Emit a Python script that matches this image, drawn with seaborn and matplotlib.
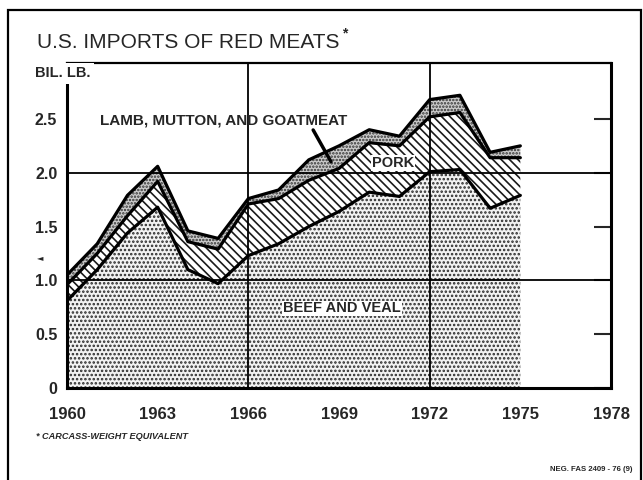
import matplotlib
matplotlib.use("Agg")
import matplotlib.pyplot as plt
import matplotlib.patches as patches
from matplotlib.ticker import MultipleLocator
import pandas as pd
import seaborn as sns

# Datos (miles de millones de libras)
years = list(range(1960, 1976))
beef = [0.81, 1.10, 1.44, 1.68, 1.10, 0.97, 1.23, 1.34, 1.50, 1.64, 1.82, 1.78, 2.01, 2.03, 1.67, 1.79]
pork = [0.15, 0.15, 0.16, 0.24, 0.26, 0.32, 0.48, 0.42, 0.43, 0.40, 0.46, 0.47, 0.51, 0.53, 0.47, 0.35]
lamb = [0.09, 0.09, 0.19, 0.14, 0.10, 0.10, 0.05, 0.08, 0.19, 0.21, 0.12, 0.09, 0.16, 0.16, 0.05, 0.11]

x_ticks = [1960, 1963, 1966, 1969, 1972, 1975, 1978]
y_ticks = [0, 0.5, 1.0, 1.5, 2.0, 2.5]
y_tick_labels = ["0", "0.5", "1.0", "1.5", "2.0", "2.5"]

df = pd.DataFrame({"year": years, "beef": beef, "pork": pork, "lamb": lamb})
df["beef_top"] = df["beef"]
df["pork_top"] = df["beef"] + df["pork"]
df["lamb_top"] = df["pork_top"] + df["lamb"]

sns.set_style("white")
plt.rcParams["font.family"] = ["Liberation Sans", "DejaVu Sans"]
plt.rcParams["hatch.linewidth"] = 1.2

fig = plt.figure(figsize=(6.43, 4.80), dpi=100)
ax = fig.add_axes([67 / 643, 1 - 388 / 480, (611 - 67) / 643, (388 - 63) / 480])

# Áreas apiladas con tramas
ax.fill_between(df["year"], 0, df["beef_top"], facecolor="#f2f2f2",
                edgecolor="#2a2a2a", hatch="....", linewidth=0, zorder=1)
ax.fill_between(df["year"], df["beef_top"], df["pork_top"], facecolor="white",
                edgecolor="#1a1a1a", hatch="\\\\\\\\", linewidth=0, zorder=1)
ax.fill_between(df["year"], df["pork_top"], df["lamb_top"], facecolor="#cccccc",
                edgecolor="#333333", hatch=".....", linewidth=0, zorder=1)

# Rejilla
for gy in [1.0, 2.0]:
    ax.axhline(gy, color="black", linewidth=1.3, zorder=2)
for gx in [1966, 1972]:
    ax.axvline(gx, color="black", linewidth=1.3, zorder=2)

# Líneas de contorno
for col in ["beef_top", "pork_top", "lamb_top"]:
    sns.lineplot(data=df, x="year", y=col, ax=ax, color="black",
                 linewidth=2.3, zorder=3)

ax.set_xlim(1960, 1978)
ax.set_ylim(0, 3.02)
ax.set_xticks(x_ticks)
ax.set_xticklabels([str(t) for t in x_ticks], fontsize=12, fontweight="bold")
ax.xaxis.set_minor_locator(MultipleLocator(1))
ax.set_yticks(y_ticks)
ax.set_yticklabels(y_tick_labels, fontsize=11.5, fontweight="bold")
ax.tick_params(axis="y", direction="in", length=12, width=1.5, right=True, pad=7)
ax.tick_params(axis="x", which="both", direction="in", length=6, width=1.3, pad=14)
ax.set_xlabel("")
ax.set_ylabel("")
for side in ["left", "right", "bottom"]:
    ax.spines[side].set_linewidth(2.2)
    ax.spines[side].set_color("black")
ax.spines["top"].set_linewidth(1.6)
ax.spines["top"].set_color("black")

# Etiquetas de series
ax.text(1965.17, 2.49, "LAMB, MUTTON, AND GOATMEAT", fontsize=11, fontweight="bold",
        ha="center", va="center", zorder=5)
ax.annotate("", xy=(1968.78, 2.08), xytext=(1968.10, 2.42),
            arrowprops=dict(arrowstyle="-", linewidth=2.5, color="black"), zorder=5)
ax.text(1970.78, 2.09, "PORK", fontsize=10.5, fontweight="bold", ha="center", va="center",
        zorder=5, bbox=dict(facecolor="white", edgecolor="none", pad=0.5))
ax.text(1969.1, 0.74, "BEEF AND VEAL", fontsize=10.5, fontweight="bold", ha="center",
        va="center", zorder=5, bbox=dict(facecolor="white", edgecolor="none", pad=0.5))

# Textos de la figura
title = fig.text(37 / 643, 1 - 48 / 480, "U.S. IMPORTS OF RED MEATS", fontsize=15,
                 ha="left", va="baseline")
fig.canvas.draw()
bb = title.get_window_extent().transformed(fig.transFigure.inverted())
fig.text(bb.x1 + 3 / 643, 1 - 37 / 480, "*", fontsize=10, fontweight="bold",
         ha="left", va="baseline")
fig.text(35 / 643, 1 - 77 / 480, "BIL. LB.", fontsize=10.5, fontweight="bold",
         ha="left", va="baseline", zorder=10,
         bbox=dict(facecolor="white", edgecolor="none", pad=2.5))
fig.text(40 / 643, 1 - 258 / 480, "\u25c4", fontsize=6, family=["DejaVu Sans"],
         ha="center", va="center")
fig.text(36 / 643, 1 - 439 / 480, "* CARCASS-WEIGHT EQUIVALENT", fontsize=6.6,
         fontweight="bold", style="italic", ha="left", va="baseline")
fig.text(633 / 643, 1 - 471 / 480, "NEG. FAS 2409 - 76 (9)", fontsize=5.6,
         fontweight="bold", ha="right", va="baseline")

# Marco exterior
fig.patches.append(patches.Rectangle((8 / 643, -0.05), (641 - 8) / 643, 1.05 - 10 / 480,
                                     transform=fig.transFigure, fill=False,
                                     edgecolor="black", linewidth=1.6))

plt.savefig("out.png", dpi=100)
